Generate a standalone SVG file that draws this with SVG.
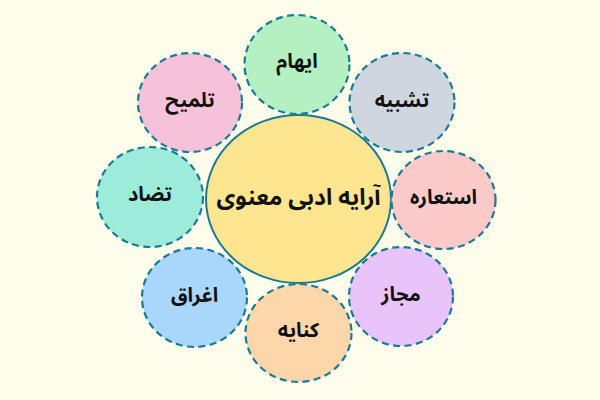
<svg xmlns="http://www.w3.org/2000/svg" width="600" height="400" viewBox="0 0 600 400">
<style>
.node{stroke:#1a7b96;stroke-width:2.2;stroke-dasharray:7 4.5;}
.center{stroke:#1a7a94;stroke-width:2;}
text{font-family:"Noto Sans Arabic","Noto Naskh Arabic","DejaVu Sans",sans-serif;font-weight:bold;fill:#111;text-anchor:middle;dominant-baseline:central;}
.lbl{font-size:20px;}
.main{font-size:23px;}
</style>
<rect width="600" height="400" fill="#fefcea"/>
<g id="center"><ellipse class="center" cx="298.5" cy="199" rx="92.5" ry="84" fill="#fde68f"/><text class="main" x="298.5" y="197">آرایه ادبی معنوی</text></g>
<g id="iham"><ellipse class="node" cx="297" cy="64.5" rx="52.5" ry="49.5" fill="#b5f0c3"/><text class="lbl" x="297" y="62">ایهام</text></g>
<g id="tashbih"><ellipse class="node" cx="402" cy="102.5" rx="52.5" ry="49.5" fill="#ced6df"/><text class="lbl" x="402" y="101">تشبیه</text></g>
<g id="esteare"><ellipse class="node" cx="443.5" cy="200" rx="52" ry="49" fill="#fdcaca"/><text class="lbl" x="443.5" y="198">استعاره</text></g>
<g id="majaz"><ellipse class="node" cx="401" cy="296.5" rx="52" ry="49.5" fill="#e9c4fa"/><text class="lbl" x="401" y="295">مجاز</text></g>
<g id="kenaye"><ellipse class="node" cx="298.5" cy="333" rx="53" ry="49" fill="#fdd6aa"/><text class="lbl" x="298.5" y="331">کنایه</text></g>
<g id="eghragh"><ellipse class="node" cx="194.5" cy="297.5" rx="52.5" ry="49.5" fill="#a9d6fb"/><text class="lbl" x="194.5" y="296">اغراق</text></g>
<g id="tazad"><ellipse class="node" cx="150" cy="197" rx="53" ry="50" fill="#9cecd9"/><text class="lbl" x="150" y="195">تضاد</text></g>
<g id="talmih"><ellipse class="node" cx="190" cy="102.5" rx="52" ry="49.5" fill="#f6c2d9"/><text class="lbl" x="190" y="101">تلمیح</text></g>
<g id="connectors"></g>
</svg>
